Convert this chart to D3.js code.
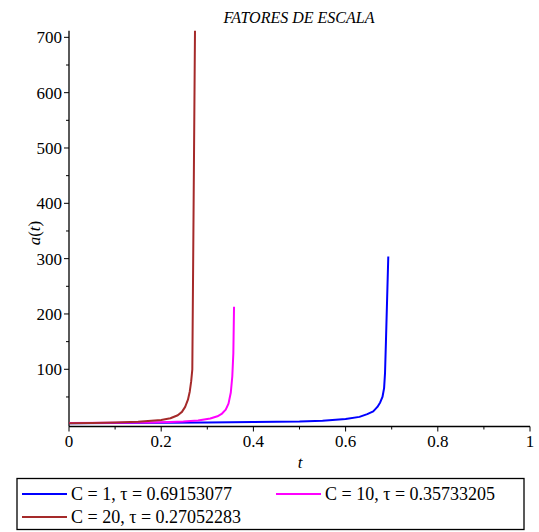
<!DOCTYPE html>
<html><head><meta charset="utf-8">
<script src="https://cdn.jsdelivr.net/npm/d3@7"></script>
</head><body style="margin:0;background:#fff"><svg id="c" width="539" height="532" style="display:block"></svg>
<script>
const title = "FATORES DE ESCALA";
const xTicks = [0, 0.2, 0.4, 0.6, 0.8, 1];
const xTickLabels = ["0", "0.2", "0.4", "0.6", "0.8", "1"];
const yTicks = [100, 200, 300, 400, 500, 600, 700];
const seriesNames = ["C = 1, τ = 0.69153077", "C = 10, τ = 0.35733205", "C = 20, τ = 0.27052283"];
const seriesColors = ["#0000ff", "#ff00ff", "#a52a2a"];
// C = 1
const tBlue = [0, 0.1, 0.2, 0.3, 0.4, 0.5, 0.55, 0.6, 0.63, 0.647, 0.66, 0.669, 0.675, 0.68, 0.6835, 0.6855, 0.6875, 0.6926];
const aBlue = [2.5, 2.8, 3.3, 3.9, 4.6, 5.5, 7, 10, 14, 19, 24, 32, 40, 50, 66, 93, 150, 304];
// C = 10
const tMag = [0, 0.1, 0.176, 0.22, 0.248, 0.28, 0.3065, 0.322, 0.332, 0.34, 0.346, 0.351, 0.3542, 0.3565, 0.358];
const aMag = [3, 3.5, 4, 4.8, 5.5, 7.5, 11, 15, 20, 27, 38, 58, 87, 129, 213];
// C = 20
const tBrown = [0, 0.05, 0.1, 0.15, 0.2, 0.22, 0.236, 0.245, 0.252, 0.258, 0.262, 0.265, 0.2675, 0.2733];
const aBrown = [2.5, 3, 3.8, 5.2, 8.5, 11.5, 17, 23, 32, 45, 60, 78, 100, 712];

const FONT = "Liberation Serif";
const svg = d3.select("#c");
const x = d3.scaleLinear().domain([0, 1]).range([69, 530]);
const y = d3.scaleLinear().domain([-3.4, 712]).range([426.5, 30.7]);

function txt(sel) {
  return sel.append("text").attr("font-family", FONT).style("font-family", FONT, "important");
}

// title
txt(svg).attr("x", 299).attr("y", 23).attr("text-anchor", "middle")
  .attr("font-size", 16).attr("font-style", "italic").text(title);

// x axis
const xAxis = svg.append("g").attr("transform", `translate(0,${y(-3.4)})`);
xAxis.append("line").attr("x1", x(0)).attr("x2", x(1)).attr("stroke", "#000").attr("stroke-width", 1.3);
d3.range(0, 11).forEach(i => {
  const v = i / 10;
  const major = i % 2 === 0;
  xAxis.append("line").attr("x1", x(v)).attr("x2", x(v)).attr("y1", 0).attr("y2", major ? 5 : 3)
    .attr("stroke", "#000").attr("stroke-width", 1);
});
xTicks.forEach((v, i) => {
  txt(xAxis).attr("x", x(v)).attr("y", 20).attr("text-anchor", "middle")
    .attr("font-size", 17).text(xTickLabels[i]);
});
txt(svg).attr("x", 300).attr("y", 468).attr("text-anchor", "middle")
  .attr("font-size", 17).attr("font-style", "italic").text("t");

// y axis
const yAxis = svg.append("g").attr("transform", `translate(${x(0)},0)`);
yAxis.append("line").attr("y1", y(-3.4)).attr("y2", y(712)).attr("stroke", "#000").attr("stroke-width", 1.3);
d3.range(50, 701, 50).forEach(v => {
  const major = v % 100 === 0;
  yAxis.append("line").attr("x1", major ? -5 : -3).attr("x2", 0).attr("y1", y(v)).attr("y2", y(v))
    .attr("stroke", "#000").attr("stroke-width", 1);
});
yTicks.forEach(v => {
  txt(yAxis).attr("x", -7).attr("y", y(v)).attr("dy", "0.35em").attr("text-anchor", "end")
    .attr("font-size", 17).text(v);
});
const yl = txt(svg).attr("transform", "translate(40,233) rotate(-90)").attr("text-anchor", "middle")
  .attr("font-size", 17);
yl.append("tspan").attr("font-style", "italic").text("a");
yl.append("tspan").text("(");
yl.append("tspan").attr("font-style", "italic").text("t");
yl.append("tspan").text(")");

// lines
const line = d3.line().x(d => x(d[0])).y(d => y(d[1]));
const series = [
  d3.zip(tBlue, aBlue),
  d3.zip(tMag, aMag),
  d3.zip(tBrown, aBrown)
];
series.forEach((s, i) => {
  svg.append("path").datum(s).attr("d", line).attr("fill", "none")
    .attr("stroke", seriesColors[i]).attr("stroke-width", 2).attr("stroke-linejoin", "round");
});

// legend
const lg = svg.append("g");
lg.append("rect").attr("x", 17).attr("y", 478.5).attr("width", 507).attr("height", 51)
  .attr("fill", "#fff").attr("stroke", "#000").attr("stroke-width", 1.3);
const legPos = [[22, 494], [276, 494], [22, 517]];
seriesNames.forEach((n, i) => {
  const [lx, ly] = legPos[i];
  lg.append("line").attr("x1", lx).attr("x2", lx + 45).attr("y1", ly).attr("y2", ly)
    .attr("stroke", seriesColors[i]).attr("stroke-width", 2);
  txt(lg).attr("x", lx + 49).attr("y", ly).attr("dy", "0.35em").attr("font-size", 18).text(n);
});
</script></body></html>
